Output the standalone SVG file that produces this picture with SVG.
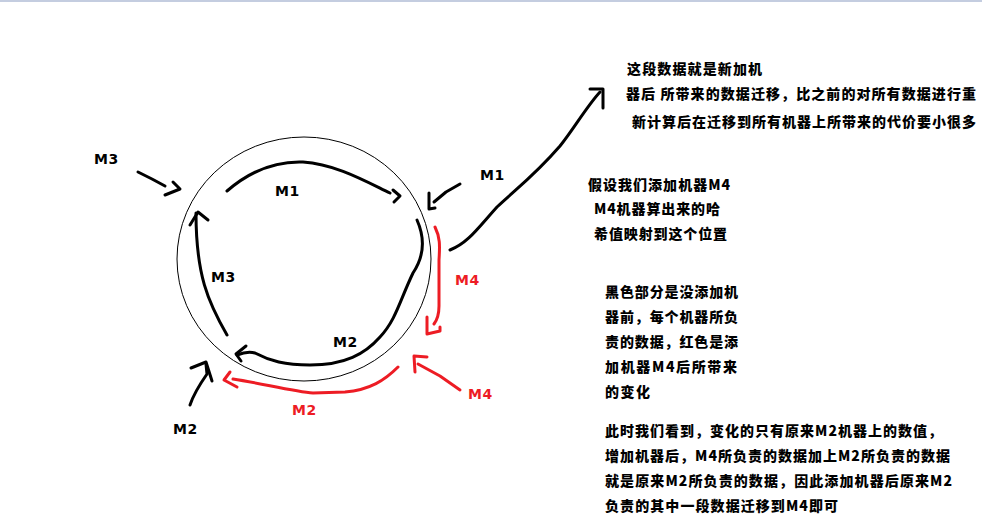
<svg xmlns="http://www.w3.org/2000/svg" width="982" height="519" viewBox="0 0 982 519">
<style>
.bk{fill:none;stroke:#000;stroke-width:3;stroke-linecap:round;stroke-linejoin:round}
.rd{fill:none;stroke:#ed1c24;stroke-width:3;stroke-linecap:round;stroke-linejoin:round}
.lb{font-family:"DejaVu Sans","Liberation Sans",sans-serif;font-weight:bold;font-size:14px;letter-spacing:0.5px}
.lbk{fill:#000}
.lrd{fill:#ed1c24}
.tx{font-family:"Noto Sans CJK SC","Noto Sans",sans-serif;font-weight:900;font-size:14px;fill:#000}
</style>
<rect x="0" y="0" width="982" height="519" fill="#fff"/>
<rect x="0" y="0" width="982" height="2" fill="#c4cde0"/>

<g id="ring">
<ellipse cx="304" cy="259" rx="127" ry="122" fill="none" stroke="#000" stroke-width="1"/>
</g>

<g id="connectors">
<path class="bk" d="M227,191 C250,171 275,161 303,162 C335,164 365,181 390,193"/>
<path class="bk" d="M393,190 L400,196 L394,202"/>
<path class="bk" d="M417,220 C425,238 425,255 413,273 C400,300 396,320 380,337 C365,354 345,365 310,365 C285,365 270,361 255,353 C248,351 242,353 237,355"/>
<path class="bk" d="M246,346 L236,354 L241,361"/>
<path class="bk" d="M227,335 C208,302 196,275 196,213"/>
<path class="bk" d="M190,225 L198,212 L208,220"/>
<path class="bk" d="M138,172 L152,179 L165,186"/>
<path class="bk" d="M173,182 L180,189 L165,195"/>
<path class="bk" d="M460,184 L446,192 L434,202"/>
<path class="bk" d="M429,193 L429,209 L435,208"/>
<path class="bk" d="M190,405 C194,393 200,384 207,374 L206,364"/>
<path class="bk" d="M191,368 L206,362 L212,381"/>
<path class="bk" d="M450,250 C468,243 478,228 497,207 C515,190 535,175 560,146 C573,130 587,106 600,92"/>
<path class="bk" d="M590,89 L603,89 L603,108"/>
<path class="rd" d="M435,227 C440,237 440,245 439,260 L439,306 C439,314 437,320 434,324"/>
<path class="rd" d="M427,317 L427,334 L440,331 L440,327"/>
<path class="rd" d="M398,367 C385,380 370,390 345,392 L313,393 C295,392 260,383 233,379"/>
<path class="rd" d="M230,372 L224,380 L237,387"/>
<path class="rd" d="M460,390 L440,376 L418,364"/>
<path class="rd" d="M427,357 L414,356 L415,372"/>
</g>

<g id="labels">
<text class="lb lbk" x="275" y="196">M1</text>
<text class="lb lbk" x="333" y="347">M2</text>
<text class="lb lbk" x="211" y="282">M3</text>
<text class="lb lbk" x="94" y="164">M3</text>
<text class="lb lbk" x="480" y="180">M1</text>
<text class="lb lbk" x="173" y="434">M2</text>
<text class="lb lrd" x="455" y="285">M4</text>
<text class="lb lrd" x="292" y="415">M2</text>
<text class="lb lrd" x="468" y="399">M4</text>
</g>

<g id="note-migration">
<text class="tx" x="627" y="74" textLength="135">这段数据就是新加机</text>
<text class="tx" x="626" y="99" textLength="350">器后 所带来的数据迁移，比之前的对所有数据进行重</text>
<text class="tx" x="632" y="127" textLength="344">新计算后在迁移到所有机器上所带来的代价要小很多</text>
</g>

<g id="note-m4">
<text class="tx" x="588" y="190" textLength="142">假设我们添加机器M4</text>
<text class="tx" x="594" y="214" textLength="126">M4机器算出来的哈</text>
<text class="tx" x="594" y="239" textLength="133">希值映射到这个位置</text>
</g>

<g id="note-colors">
<text class="tx" x="605" y="297" textLength="133">黑色部分是没添加机</text>
<text class="tx" x="605" y="322" textLength="133">器前，每个机器所负</text>
<text class="tx" x="605" y="347" textLength="133">责的数据，红色是添</text>
<text class="tx" x="605" y="372" textLength="132">加机器M4后所带来</text>
<text class="tx" x="605" y="397" textLength="45">的变化</text>
</g>

<g id="note-conclusion">
<text class="tx" x="605" y="436" textLength="337">此时我们看到，变化的只有原来M2机器上的数值，</text>
<text class="tx" x="605" y="461" textLength="345">增加机器后，M4所负责的数据加上M2所负责的数据</text>
<text class="tx" x="605" y="486" textLength="347">就是原来M2所负责的数据，因此添加机器后原来M2</text>
<text class="tx" x="605" y="511" textLength="233">负责的其中一段数据迁移到M4即可</text>
</g>
</svg>
